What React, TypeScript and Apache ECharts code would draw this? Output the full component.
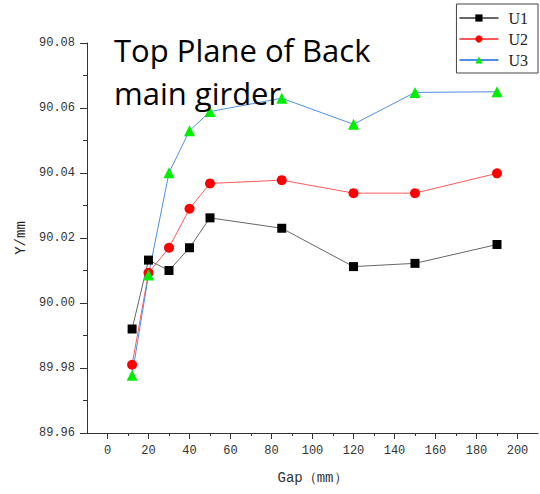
import React, { useEffect, useRef } from "react";
import * as echarts from "echarts";

const gapValues = [12, 20, 30, 40, 50, 85, 120, 150, 190];
const u1Values = [89.992, 90.0132, 90.010, 90.017, 90.0262, 90.023, 90.0112, 90.0122, 90.018];
const u2Values = [89.981, 90.0093, 90.017, 90.029, 90.0368, 90.0378, 90.0338, 90.0338, 90.0399];
const u3Values = [89.9778, 90.0086, 90.0401, 90.053, 90.0589, 90.063, 90.055, 90.0648, 90.065];
const xMajorTicks = [0, 20, 40, 60, 80, 100, 120, 140, 160, 180, 200];
const xMinorTicks = [10, 30, 50, 70, 90, 110, 130, 150, 170, 190];
const seriesNames = ["U1", "U2", "U3"];
const titleText = "Top Plane of Back\nmain girder";

const pairs = (vals: number[]) => gapValues.map((g, i) => [g, vals[i]]);

export default function App() {
  const ref = useRef<HTMLDivElement>(null);
  useEffect(() => {
    document.body.style.margin = "0";
    const chart = echarts.init(ref.current!, null, { renderer: "svg" });
    const mono = "Liberation Mono";
    chart.setOption({
      animation: false,
      backgroundColor: "#ffffff",
      title: {
        text: titleText,
        left: 114,
        top: 28,
        padding: 0,
        textStyle: {
          fontFamily: "Open Sans",
          fontSize: 31,
          fontWeight: "normal",
          color: "#000",
          lineHeight: 43,
        },
      },
      legend: {
        data: seriesNames,
        orient: "vertical",
        right: 2,
        top: 4,
        borderColor: "#444",
        borderWidth: 1,
        padding: [6, 10, 5, 2],
        itemGap: 5,
        itemWidth: 39,
        itemHeight: 9,
        textStyle: {
          fontFamily: "Liberation Serif",
          fontSize: 16,
          color: "#222",
          padding: [0, 0, 0, 5],
        },
      },
      grid: {
        left: 87,
        right: 2,
        top: 43,
        bottom: 61,
        containLabel: false,
        outerBoundsMode: "none",
      },
      xAxis: [
        {
          type: "value",
          min: -10,
          max: 210,
          interval: 10,
          name: "Gap（mm）",
          nameLocation: "middle",
          nameGap: 38,
          nameTextStyle: { fontFamily: mono, fontSize: 14, color: "#333" },
          axisLine: { show: true, onZero: false, lineStyle: { color: "#333", width: 1 } },
          axisTick: { show: true, length: 6, customValues: xMajorTicks, lineStyle: { color: "#333" } },
          axisLabel: {
            customValues: xMajorTicks,
            fontFamily: mono,
            fontSize: 12,
            color: "#333",
            margin: 12,
            formatter: (v: number) => (v % 20 === 0 && v >= 0 && v <= 200 ? String(v) : ""),
          },
          splitLine: { show: false },
        },
        {
          type: "value",
          min: -10,
          max: 210,
          interval: 10,
          position: "bottom",
          axisLine: { show: false },
          axisTick: { show: true, length: 3, customValues: xMinorTicks, lineStyle: { color: "#333" } },
          axisLabel: { show: false },
          splitLine: { show: false },
        },
      ],
      yAxis: {
        type: "value",
        min: 89.96,
        max: 90.08,
        interval: 0.02,
        name: "Y/mm",
        nameLocation: "middle",
        nameGap: 57,
        nameRotate: 90,
        nameTextStyle: { fontFamily: mono, fontSize: 14, color: "#222" },
        axisLine: { show: true, onZero: false, lineStyle: { color: "#333", width: 1 } },
        axisTick: { show: true, length: 7, lineStyle: { color: "#333" } },
        minorTick: { show: true, splitNumber: 2, length: 4, lineStyle: { color: "#333" } },
        axisLabel: {
          fontFamily: mono,
          fontSize: 12,
          color: "#333",
          margin: 12,
          formatter: (v: number) => v.toFixed(2),
        },
        splitLine: { show: false },
        minorSplitLine: { show: false },
      },
      series: [
        {
          name: "U1",
          type: "line",
          data: pairs(u1Values),
          symbol: "rect",
          symbolSize: 9,
          itemStyle: { color: "#000000" },
          lineStyle: { color: "#666666", width: 1 },
        },
        {
          name: "U2",
          type: "line",
          data: pairs(u2Values),
          symbol: "circle",
          symbolSize: 10,
          itemStyle: { color: "#ff0000" },
          lineStyle: { color: "#ff5a5a", width: 1 },
        },
        {
          name: "U3",
          type: "line",
          data: pairs(u3Values),
          symbol: "triangle",
          symbolSize: 11,
          itemStyle: { color: "#00ee00" },
          lineStyle: { color: "#4d8fe8", width: 1 },
        },
      ],
    });
    return () => chart.dispose();
  }, []);
  return <div ref={ref} style={{ width: 540, height: 494 }} />;
}
